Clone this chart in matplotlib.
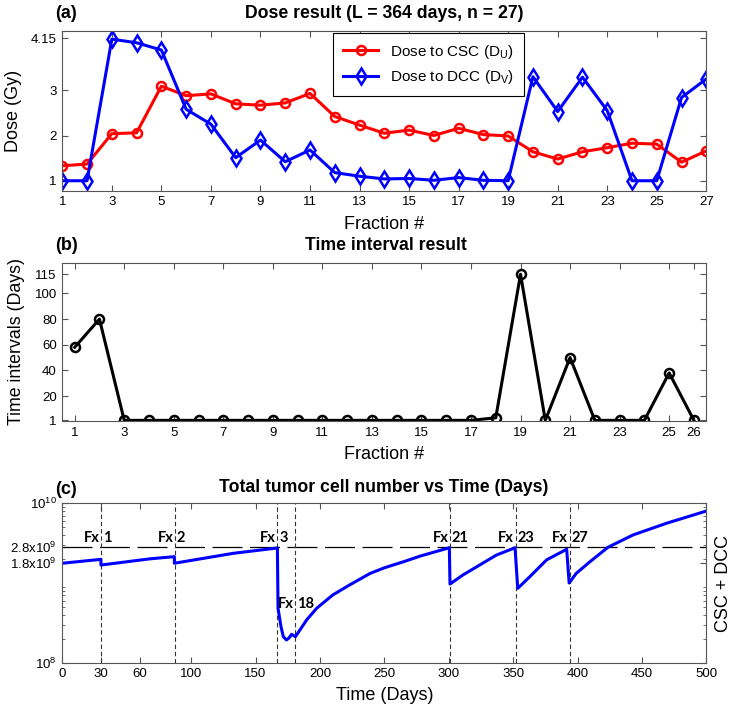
import numpy as np
import matplotlib
matplotlib.use('Agg')
import matplotlib.pyplot as plt
from matplotlib import font_manager
from matplotlib.ticker import FixedLocator, LogLocator, NullFormatter

names = {f.name for f in font_manager.fontManager.ttflist}
fx_font = 'Lato' if 'Lato' in names else 'DejaVu Sans'
base_font = 'Liberation Sans'
plt.rcParams['font.family'] = [base_font, 'DejaVu Sans']
plt.rcParams['mathtext.fontset'] = 'custom'
plt.rcParams['mathtext.rm'] = base_font
plt.rcParams['mathtext.it'] = base_font
plt.rcParams['mathtext.bf'] = base_font + ':bold'

# ---- data ----
# (a) dose per fraction
fraction = np.arange(1, 28)
dose_csc = [1.33, 1.37, 2.04, 2.06, 3.09, 2.88, 2.92, 2.70, 2.67, 2.72, 2.93, 2.42, 2.23, 2.05,
            2.12, 2.00, 2.16, 2.02, 1.99, 1.64, 1.48, 1.64, 1.73, 1.83, 1.81, 1.41, 1.66]
dose_dcc = [1.0, 1.0, 4.13, 4.05, 3.89, 2.58, 2.25, 1.51, 1.90, 1.42, 1.68, 1.18, 1.10, 1.04,
            1.05, 1.01, 1.07, 1.01, 1.0, 3.30, 2.53, 3.29, 2.55, 1.0, 1.0, 2.84, 3.25]
dose_ticks = [1, 2, 3, 4.15]
dose_ticklabels = ['1', '2', '3', '4.15']

# (b) time intervals between fractions
interval_fx = np.arange(1, 27)
interval_days = [58, 80, 1, 1, 1, 1, 1, 1, 1, 1, 1, 1, 1, 1, 1, 1, 1, 3, 115, 1, 50, 1, 1, 1, 38, 1]
interval_ticks = [1, 20, 40, 60, 80, 100, 115]

# (c) total tumour cells (x 1e9) vs time
t_days = [0, 30, 30, 68, 87, 87, 133, 167, 167.5, 169.8, 171.6, 174, 176, 178, 181, 189.7,
          197.5, 210, 223, 239, 250, 265, 278, 300.5, 301, 311, 324, 337, 351.5, 353.6, 363,
          376, 391.6, 393.5, 399, 409.7, 423.7, 443, 469, 500]
cells_e9 = [1.77, 1.98, 1.68, 2.01, 2.14, 1.77, 2.36, 2.75, 0.48, 0.283, 0.212, 0.193, 0.204,
            0.227, 0.212, 0.344, 0.482, 0.708, 0.944, 1.32, 1.55, 1.85, 2.18, 2.77, 0.97, 1.26,
            1.68, 2.24, 2.77, 0.857, 1.20, 1.95, 2.65, 1.0, 1.32, 1.85, 2.81, 4.0, 5.61, 8.0]
fx_days = [30, 87.5, 167, 181, 301, 352, 394]
fx_numbers = ['1', '2', '3', '18', '21', '23', '27']
threshold = 2.8e9
time_ticks = [0, 30, 60, 100, 150, 200, 250, 300, 350, 400, 450, 500]
cell_ticks = [1e8, 1.8e9, 2.8e9, 1e10]
cell_ticklabels = [r'10$^{8}$', r'1.8x10$^{9}$', r'2.8x10$^{9}$', r'10$^{10}$']

spine_col = '#555555'

def style(ax):
    for s in ax.spines.values():
        s.set_color(spine_col)
        s.set_linewidth(0.8)
    ax.tick_params(direction='in', top=True, right=True, length=4, width=0.8,
                   color=spine_col, labelsize=9.5, pad=4)
    ax.tick_params(which='minor', direction='in', top=True, right=True, length=2.5,
                   width=0.6, color=spine_col)

fig = plt.figure(figsize=(7.33, 7.10), dpi=100)
W, H = 733, 710

def axes_px(left, top, right, bottom):
    return fig.add_axes([left / W, 1 - bottom / H, (right - left) / W, (bottom - top) / H])

# ---- (a) dose ----
ax1 = axes_px(62.3, 31, 706.3, 190.7)
ax1.plot(fraction, dose_csc, '-o', color='red', lw=2.2, ms=6.5, mfc='none', mew=1.8,
         label=r'Dose to CSC (D$_{\mathregular{U}}$)')
ax1.plot(fraction, dose_dcc, '-d', color='blue', lw=2.2, ms=8, mfc='none', mew=1.8,
         label=r'Dose to DCC (D$_{\mathregular{V}}$)')
ax1.set_xlim(1, 27)
ax1.set_ylim(0.78, 4.31)
ax1.set_xticks(np.arange(1, 28, 2))
ax1.set_yticks(dose_ticks)
ax1.set_yticklabels(dose_ticklabels)
style(ax1)
ax1.set_xlabel('Fraction #', fontsize=13)
ax1.set_ylabel('Dose (Gy)', fontsize=13)
ax1.xaxis.set_label_coords(0.5, -0.16)
ax1.yaxis.set_label_coords(-0.062, 0.5)
leg = ax1.legend(loc='upper left', bbox_to_anchor=(0.4205, 0.988), borderaxespad=0,
                 fontsize=11, numpoints=1, handlelength=2.3, borderpad=0.65,
                 labelspacing=0.5, fancybox=False, framealpha=1, edgecolor='black')
leg.get_frame().set_linewidth(0.8)

# ---- (b) time intervals ----
ax2 = axes_px(62.3, 262.7, 706.3, 421)
ax2.plot(interval_fx, interval_days, '-o', color='black', lw=2.2, ms=6.5, mfc='none', mew=1.8)
ax2.set_xlim(0.5, 26.5)
ax2.set_ylim(0.5, 124)
ax2.set_xticks(list(range(1, 26, 2)) + [26])
ax2.set_yticks(interval_ticks)
style(ax2)
ax2.set_xlabel('Fraction #', fontsize=13)
ax2.set_ylabel('Time intervals (Days)', fontsize=12.8)
ax2.xaxis.set_label_coords(0.5, -0.16)
ax2.yaxis.set_label_coords(-0.058, 0.5)

# ---- (c) total cell number ----
ax3 = axes_px(62.3, 503.3, 706.3, 662.7)
ax3.set_yscale('log')
cells = np.array(cells_e9) * 1e9
ax3.axhline(threshold, color='black', lw=0.9, dashes=(24, 6))
for d in fx_days:
    ax3.axvline(d, color='#333333', lw=0.8, dashes=(4, 2.5))
ax3.plot(t_days, cells, color='blue', lw=2.2)
for d, n in zip(fx_days, fx_numbers):
    ty = 5.46e8 if n == '18' else 3.67e9
    ax3.text(d - 1.2, ty, 'Fx', ha='right', va='center', fontsize=10.5, fontweight='bold',
             family=fx_font)
    ax3.text(d + 1.5, ty, n, ha='left', va='center', fontsize=10.5, fontweight='bold',
             family=fx_font)
ax3.set_xlim(0, 500)
ax3.set_ylim(1e8, 1e10)
ax3.set_xticks(time_ticks)
ax3.yaxis.set_major_locator(FixedLocator(cell_ticks))
ax3.set_yticklabels(cell_ticklabels)
ax3.yaxis.set_minor_locator(LogLocator(base=10, subs=np.arange(2, 10)))
ax3.yaxis.set_minor_formatter(NullFormatter())
style(ax3)
ax3.set_xlabel('Time (Days)', fontsize=13)
ax3.xaxis.set_label_coords(0.5, -0.15)
ax3.text(1.026, 0.5, 'CSC + DCC', rotation=90, ha='center', va='center', fontsize=13,
         transform=ax3.transAxes)

# ---- titles and panel letters ----
fig.text(384 / W, 1 - 14 / H, 'Dose result (L = 364 days, n = 27)', ha='center', va='center',
         fontsize=12.7, fontweight='bold')
fig.text(386 / W, 1 - 246 / H, 'Time interval result', ha='center', va='center',
         fontsize=12.7, fontweight='bold')
fig.text(384 / W, 1 - 488 / H, 'Total tumor cell number vs Time (Days)', ha='center',
         va='center', fontsize=12.7, fontweight='bold')
for lab, yy in [('(a)', 14), ('(b)', 246), ('(c)', 489)]:
    fig.text(55 / W, 1 - yy / H, lab, ha='left', va='center', fontsize=13, fontweight='bold')

fig.savefig('out.png', dpi=100)
